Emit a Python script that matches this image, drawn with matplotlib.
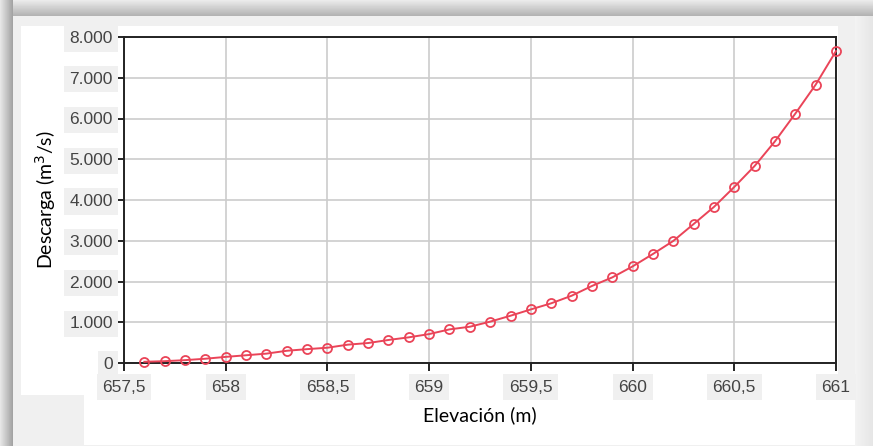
import numpy as np
import matplotlib.pyplot as plt
from matplotlib.patches import Rectangle

plt.rcParams['font.family'] = ['Liberation Sans', 'DejaVu Sans']

# data
elevacion = [657.6, 657.7, 657.8, 657.9, 658.0, 658.1, 658.2, 658.3, 658.4, 658.5,
             658.6, 658.7, 658.8, 658.9, 659.0, 659.1, 659.2, 659.3, 659.4, 659.5,
             659.6, 659.7, 659.8, 659.9, 660.0, 660.1, 660.2, 660.3, 660.4, 660.5,
             660.6, 660.7, 660.8, 660.9, 661.0]
descarga = [30, 45, 70, 105, 150, 190, 230, 300, 340, 375,
            450, 490, 565, 630, 710, 825, 890, 1015, 1160, 1315,
            1465, 1650, 1890, 2100, 2370, 2675, 2995, 3410, 3830, 4320,
            4835, 5440, 6120, 6830, 7655]

x_ticks = [657.5, 658, 658.5, 659, 659.5, 660, 660.5, 661]
x_tick_labels = ["657,5", "658", "658,5", "659", "659,5", "660", "660,5", "661"]
y_ticks = [0, 1000, 2000, 3000, 4000, 5000, 6000, 7000, 8000]
y_tick_labels = ["0", "1.000", "2.000", "3.000", "4.000", "5.000", "6.000", "7.000", "8.000"]

W, H = 873, 446
fig = plt.figure(figsize=(W / 100, H / 100), dpi=100)
fig.patch.set_facecolor('#f0f0f0')

# screenshot frame drawn in pixel coordinates
bg = fig.add_axes([0, 0, 1, 1], zorder=-5)
bg.axis('off')
top = np.linspace(0.92, 0.70, 16).reshape(-1, 1)
bg.imshow(np.repeat(top, 2, axis=1), cmap='gray', vmin=0, vmax=1,
          extent=(0, W, 16, 0), aspect='auto')
left = np.linspace(0.90, 0.64, 13).reshape(1, -1)
bg.imshow(np.repeat(left, 2, axis=0), cmap='gray', vmin=0, vmax=1,
          extent=(0, 13, H, 0), aspect='auto')
right = np.linspace(0.95, 0.90, 18).reshape(1, -1)
bg.imshow(np.repeat(right, 2, axis=0), cmap='gray', vmin=0, vmax=1,
          extent=(855, W, H, 16), aspect='auto')
bg.add_patch(Rectangle((21, 26), 817, 369, facecolor='white', edgecolor='none'))
bg.add_patch(Rectangle((84, 375), 771, 70, facecolor='white', edgecolor='none'))
bg.set_xlim(0, W)
bg.set_ylim(H, 0)

ax = fig.add_axes([124 / W, 83 / H, 712 / W, 326 / H])
ax.plot(elevacion, descarga, color='#ea4458', lw=1.4, marker='o', markersize=6.5,
        markerfacecolor='none', markeredgewidth=1.3, clip_on=False, zorder=3)

ax.set_xlim(657.5, 661)
ax.set_ylim(0, 8000)
ax.set_xticks(x_ticks)
ax.set_xticklabels(x_tick_labels, fontfamily='Liberation Sans')
ax.set_yticks(y_ticks)
ax.set_yticklabels(y_tick_labels, fontfamily='Liberation Sans')
ax.grid(True, color='#cccccc', lw=1.2)
ax.set_axisbelow(True)
for s in ax.spines.values():
    s.set_color('#222222')
    s.set_linewidth(1.4)
ax.tick_params(axis='y', length=5, width=1.2, pad=3, labelsize=12.5, labelcolor='#444444')
ax.tick_params(axis='x', length=6, width=1.2, pad=6, labelsize=12.5, labelcolor='#444444')
for lab in ax.get_xticklabels() + ax.get_yticklabels():
    lab.set_bbox(dict(facecolor='#f0f0f0', edgecolor='none', pad=4))

ax.set_xlabel('Elevación (m)', fontfamily='Lato', fontsize=14, labelpad=8)
ax.set_ylabel('Descarga (m$^3$/s)', fontfamily='Lato', fontsize=14, labelpad=8)

fig.savefig('out.png', dpi=100, facecolor=fig.get_facecolor())
